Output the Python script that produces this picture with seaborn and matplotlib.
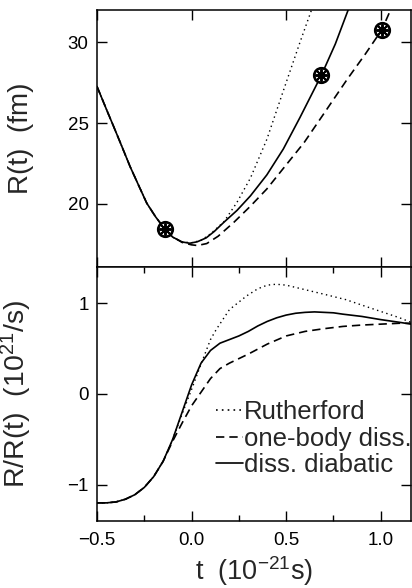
import matplotlib
matplotlib.use("Agg")
import matplotlib.pyplot as plt
import seaborn as sns
import numpy as np
from matplotlib.ticker import MultipleLocator, FixedLocator

# ---------------- data ----------------
# upper panel: R(t) in fm
t_sol_top = [-0.5, -0.45, -0.412, -0.37, -0.325, -0.28, -0.237, -0.19, -0.141, -0.1, -0.05, -0.01,
             0.03, 0.077, 0.12, 0.171, 0.24, 0.311, 0.398, 0.485, 0.573, 0.686, 0.76, 0.829, 0.87]
r_sol_top = [27.27, 25.85, 24.79, 23.6, 22.31, 21.15, 20.05, 19.2, 18.44, 17.95, 17.65, 17.57,
             17.66, 17.9, 18.3, 18.87, 19.6, 20.5, 21.8, 23.4, 25.35, 27.96, 29.9, 32.04, 33.3]

t_dot_top = [-0.5, -0.45, -0.412, -0.37, -0.325, -0.28, -0.237, -0.19, -0.141, -0.1, -0.05, 0.0,
             0.05, 0.1, 0.171, 0.24, 0.311, 0.398, 0.485, 0.573, 0.64, 0.68]
r_dot_top = [27.27, 25.85, 24.79, 23.6, 22.31, 21.15, 20.05, 19.2, 18.44, 17.95, 17.65, 17.6,
             17.75, 18.15, 18.9, 20.1, 21.6, 24.0, 27.0, 30.0, 32.2, 33.5]

t_das_top = [-0.5, -0.45, -0.412, -0.37, -0.325, -0.28, -0.237, -0.19, -0.141, -0.1, -0.05, 0.0,
             0.031, 0.08, 0.14, 0.224, 0.31, 0.398, 0.485, 0.595, 0.7, 0.822, 0.92, 1.005, 1.05, 1.1]
r_das_top = [27.27, 25.85, 24.79, 23.6, 22.31, 21.15, 20.05, 19.2, 18.44, 17.97, 17.62, 17.47,
             17.43, 17.55, 18.0, 18.87, 19.85, 20.93, 22.2, 23.8, 25.6, 27.7, 29.3, 30.76, 31.95, 33.0]

t_marks = [-0.141, 0.686, 1.005]
r_marks = [18.44, 27.96, 30.76]

# lower panel: Rdot/R in 10^21/s
t_sol_bot = [-0.5, -0.45, -0.4, -0.35, -0.3, -0.25, -0.2, -0.15, -0.1, -0.05, 0.0, 0.05, 0.1,
             0.15, 0.2, 0.25, 0.3, 0.35, 0.4, 0.45, 0.5, 0.55, 0.6, 0.65, 0.7, 0.75, 0.8, 0.9,
             1.0, 1.1, 1.16]
v_sol_bot = [-1.20, -1.20, -1.19, -1.16, -1.11, -1.03, -0.91, -0.74, -0.50, -0.20, 0.10, 0.34, 0.48,
             0.56, 0.60, 0.64, 0.69, 0.75, 0.80, 0.84, 0.87, 0.89, 0.90, 0.905, 0.90, 0.895, 0.88,
             0.855, 0.82, 0.79, 0.77]

t_dot_bot = [-0.5, -0.45, -0.4, -0.35, -0.3, -0.25, -0.2, -0.15, -0.1, -0.05, 0.0, 0.05, 0.1,
             0.13, 0.2, 0.29, 0.35, 0.4, 0.447, 0.5, 0.6, 0.7, 0.816, 0.9, 1.0, 1.1, 1.16]
v_dot_bot = [-1.20, -1.20, -1.19, -1.16, -1.11, -1.03, -0.91, -0.74, -0.50, -0.22, 0.05, 0.33, 0.60,
             0.71, 0.93, 1.08, 1.16, 1.20, 1.21, 1.20, 1.15, 1.10, 1.04, 0.98, 0.91, 0.84, 0.79]

t_das_bot = [-0.5, -0.45, -0.4, -0.35, -0.3, -0.25, -0.2, -0.15, -0.1, -0.05, 0.0, 0.05, 0.1,
             0.15, 0.2, 0.25, 0.3, 0.4, 0.5, 0.6, 0.7, 0.8, 0.9, 1.0, 1.1, 1.16]
v_das_bot = [-1.20, -1.20, -1.19, -1.16, -1.11, -1.03, -0.91, -0.74, -0.52, -0.32, -0.13, 0.02, 0.17,
             0.28, 0.34, 0.39, 0.44, 0.55, 0.64, 0.69, 0.72, 0.745, 0.76, 0.77, 0.78, 0.78]

labels = ["Rutherford", "one-body diss.", "diss. diabatic"]
x_major = [-0.5, 0.0, 0.5, 1.0]
x_minor = [-0.25, 0.25, 0.75]

# ---------------- styling ----------------
sns.set_theme(style="ticks")
plt.rcParams["font.family"] = ["Liberation Sans", "DejaVu Sans"]
plt.rcParams["mathtext.fontset"] = "custom"
plt.rcParams["mathtext.rm"] = "Liberation Sans"
plt.rcParams["mathtext.it"] = "Liberation Sans"
plt.rcParams["axes.unicode_minus"] = False

fig = plt.figure(figsize=(4.12, 5.88), dpi=100)
L = 97 / 412
W = 314 / 412
ax1 = fig.add_axes([L, 1 - 267 / 588, W, 257 / 588])
ax2 = fig.add_axes([L, 1 - 521 / 588, W, 254 / 588])

lw = 1.2
dot_style = (0, (1, 2.5))
dash_style = (0, (5, 3))

sns.lineplot(x=t_dot_top, y=r_dot_top, ax=ax1, color="black", lw=1.0, linestyle=dot_style,
             sort=False, estimator=None)
sns.lineplot(x=t_das_top, y=r_das_top, ax=ax1, color="black", lw=lw, linestyle=dash_style,
             sort=False, estimator=None)
sns.lineplot(x=t_sol_top, y=r_sol_top, ax=ax1, color="black", lw=lw, linestyle="-",
             sort=False, estimator=None)
sns.scatterplot(x=t_marks, y=r_marks, ax=ax1, marker="o", s=110, facecolor="white",
                edgecolor="black", linewidth=1.9, zorder=5)
sns.scatterplot(x=t_marks, y=r_marks, ax=ax1, marker=(8, 2, 0), s=70, color="black",
                linewidth=1.4, zorder=6)

sns.lineplot(x=t_dot_bot, y=v_dot_bot, ax=ax2, color="black", lw=1.0, linestyle=dot_style,
             sort=False, estimator=None, label=labels[0])
sns.lineplot(x=t_das_bot, y=v_das_bot, ax=ax2, color="black", lw=lw, linestyle=dash_style,
             sort=False, estimator=None, label=labels[1])
sns.lineplot(x=t_sol_bot, y=v_sol_bot, ax=ax2, color="black", lw=lw, linestyle="-",
             sort=False, estimator=None, label=labels[2])

xmin, xmax = -0.5, 1.16
ax1.set_xlim(xmin, xmax)
ax2.set_xlim(xmin, xmax)
ax1.set_ylim(16.1, 32.0)
ax2.set_ylim(-1.4, 1.4)

for ax in (ax1, ax2):
    for s in ax.spines.values():
        s.set_linewidth(1.1)
        s.set_color("black")
        s.set_visible(True)
    ax.xaxis.set_major_locator(FixedLocator(x_major))
    ax.tick_params(axis="both", which="major", direction="in", length=7, width=1.0,
                   top=True, right=True, colors="black", labelsize=13.5)
    ax.tick_params(axis="both", which="minor", direction="in", length=4, width=1.0,
                   top=True, right=True, colors="black")
    ax.set_facecolor("white")

ax2.xaxis.set_minor_locator(FixedLocator(x_minor))
ax1.set_yticks([20, 25, 30])
ax2.set_yticks([-1, 0, 1])
ax1.tick_params(axis="x", labelbottom=False)
ax2.set_yticklabels(["\u22121", "0", "1"])
ax2.set_xticklabels(["\u22120.5", "0.0", "0.5", "1.0"])
ax2.tick_params(axis="x", pad=8)
ax1.tick_params(axis="y", pad=6)
ax2.tick_params(axis="y", pad=6)

ax1.set_xlabel("")
ax1.set_ylabel("R(t)  (fm)", fontsize=20)
ax1.yaxis.set_label_coords(-0.2, 0.5)
ax2.set_ylabel("R/R(t)  (10$^{21}$/s)", fontsize=20.5)
ax2.yaxis.set_label_coords(-0.2, 0.5)
ax2.set_xlabel("t  (10$^{-21}$s)", fontsize=19.5, labelpad=4)

leg = ax2.legend(loc="upper left", bbox_to_anchor=(0.379, 0.475), frameon=False,
                 fontsize=18.5, handlelength=1.05, handletextpad=0.05, labelspacing=0.1,
                 borderpad=0, borderaxespad=0)
for h in leg.get_lines():
    h.set_linewidth(1.2)

fig.savefig("out.png", dpi=100, facecolor="white")
